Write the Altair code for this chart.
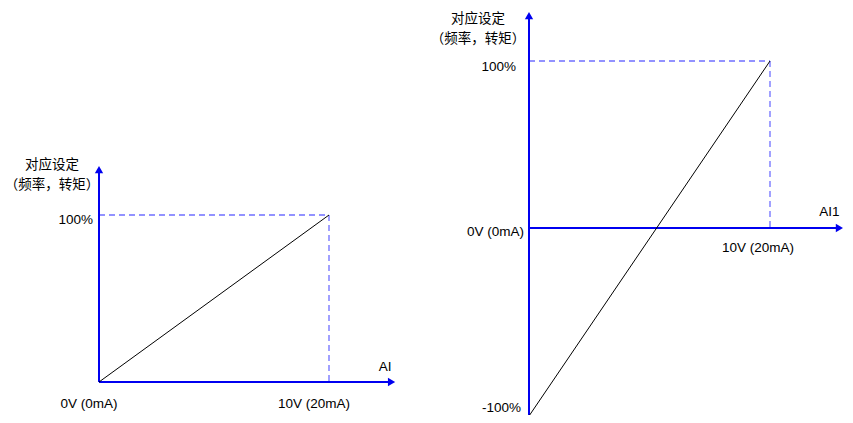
import altair as alt
import pandas as pd

# ---------------- data ----------------
# left diagram: 0..10 V  ->  0..100 %
L_line_v = [0, 10]
L_line_pct = [0, 100]
# right diagram: 0..10 V  ->  -100..100 %
R_line_v = [0, 10]
R_line_pct = [-100, 100]

# axis extents (V, %) : arrow ends
L_axis_vmax, L_axis_pmax, L_axis_pmin = 12.72, 127.2, 0
R_axis_vmax, R_axis_pmax, R_axis_pmin = 12.88, 127.2, -104

y_title = ["对应设定", "（频率，转矩）"]
L_xlabel = "AI"
R_xlabel = "AI1"
lbl_0 = "0V (0mA)"
lbl_10 = "10V (20mA)"
lbl_100 = "100%"
lbl_m100 = "-100%"

BLUE = "#0000F0"
DASH = "#6F6FFF"
LATIN = "Liberation Sans"
CJK = "Noto Sans CJK SC"
FS = 13.5


def panel(xs, ys, line_v, line_pct, vmax, pmax, pmin, xlabel, offs):
    X = lambda f: alt.X(f, type="quantitative", scale=xs, axis=None)
    Y = lambda f: alt.Y(f, type="quantitative", scale=ys, axis=None)
    layers = []
    # dashed guides
    guides = pd.DataFrame({"x": [0, line_v[1]], "y": [line_pct[1], line_pct[1]],
                           "x2": [line_v[1], line_v[1]], "y2": [line_pct[1], 0]})
    layers.append(alt.Chart(guides).mark_rule(color=DASH, strokeWidth=1.3, strokeDash=[6, 4]).encode(
        x=X("x"), y=Y("y"), x2="x2", y2="y2"))
    # axes
    ax = pd.DataFrame({"x": [0, 0], "y": [pmin, 0], "x2": [0, vmax], "y2": [pmax, 0]})
    layers.append(alt.Chart(ax).mark_rule(color=BLUE, strokeWidth=2).encode(
        x=X("x"), y=Y("y"), x2="x2", y2="y2"))
    # arrow heads
    up = pd.DataFrame({"x": [0], "y": [pmax]})
    rt = pd.DataFrame({"x": [vmax], "y": [0]})
    layers.append(alt.Chart(up).mark_point(shape="triangle-up", filled=True, size=70, color=BLUE, opacity=1).encode(
        x=X("x"), y=Y("y")))
    layers.append(alt.Chart(rt).mark_point(shape="triangle-right", filled=True, size=70, color=BLUE, opacity=1).encode(
        x=X("x"), y=Y("y")))
    # characteristic line
    ln = pd.DataFrame({"x": line_v, "y": line_pct})
    layers.append(alt.Chart(ln).mark_line(color="black", strokeWidth=1).encode(x=X("x"), y=Y("y")))

    # texts
    def txt(x, y, t, dx, dy, align, font, size=FS):
        d = pd.DataFrame({"x": [x], "y": [y], "t": [t]})
        return alt.Chart(d).mark_text(dx=dx, dy=dy, align=align, baseline="middle", font=font,
                                      fontSize=size, color="black").encode(x=X("x"), y=Y("y"), text="t:N")

    o = offs
    layers.append(txt(0, pmax, y_title[0], o["title_dx"], o["title_dy"], "center", CJK, 13.5))
    layers.append(txt(0, pmax, y_title[1], o["title_dx"], o["title_dy"] + 19.5, "center", CJK, 13.5))
    layers.append(txt(0, line_pct[1], lbl_100, o["p100"][0], o["p100"][1], "right", LATIN))
    layers.append(txt(0, 0, lbl_0, o["zero"][0], o["zero"][1], o["zero_align"], LATIN))
    layers.append(txt(line_v[1], 0, lbl_10, o["ten"][0], o["ten"][1], "center", LATIN))
    layers.append(txt(vmax, 0, xlabel, o["xl"][0], o["xl"][1], "center", LATIN))
    if line_pct[0] < 0:
        layers.append(txt(0, line_pct[0], lbl_m100, -8, -8, "right", LATIN))
    return alt.layer(*layers)


Lx = alt.Scale(domain=[0, 10], range=[91, 321])
Ly = alt.Scale(domain=[0, 100], range=[374, 207])
Rx = alt.Scale(domain=[0, 10], range=[521, 762])
Ry = alt.Scale(domain=[-100, 0, 100], range=[408, 220, 53])

left = panel(Lx, Ly, L_line_v, L_line_pct, L_axis_vmax, L_axis_pmax, L_axis_pmin, L_xlabel,
             {"title_dx": -47, "title_dy": -4.5, "p100": (-6, 5), "zero": (-10, 22), "zero_align": "center",
              "ten": (-15, 22), "xl": (-6.5, -15)})
right = panel(Rx, Ry, R_line_v, R_line_pct, R_axis_vmax, R_axis_pmax, R_axis_pmin, R_xlabel,
              {"title_dx": -51, "title_dy": 3.5, "p100": (-13, 6), "zero": (-5, 4), "zero_align": "right",
               "ten": (-12, 20), "xl": (-10, -16)})

chart = alt.layer(left, right).resolve_scale(x="independent", y="independent").properties(
    width=837, height=407, autosize=alt.AutoSizeParams(type="none"), padding=0
).configure(background="white", view=alt.ViewConfig(stroke=None))

chart.save("out.html", embed_options={"renderer": "svg", "actions": False})
